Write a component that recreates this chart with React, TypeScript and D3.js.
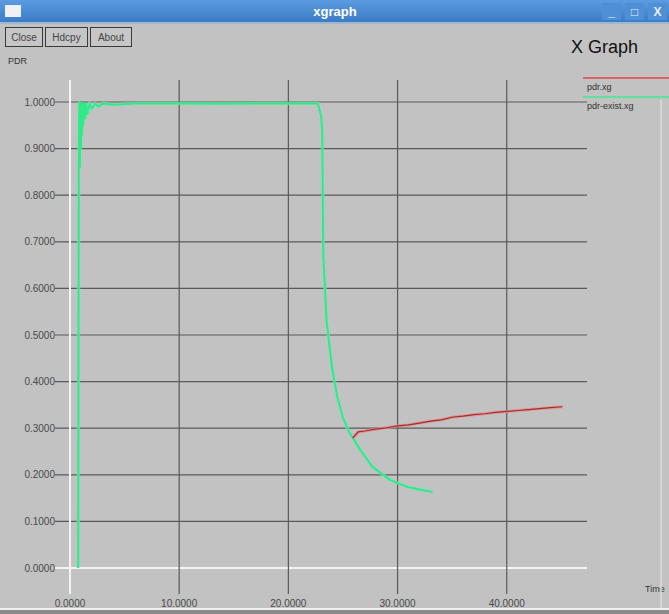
import { useEffect, useRef } from 'react';
import * as d3 from 'd3';

// tick values
const xTicks = [0, 10, 20, 30, 40];
const yTicks = [0, 0.1, 0.2, 0.3, 0.4, 0.5, 0.6, 0.7, 0.8, 0.9, 1.0];

// pdr-exist.xg (green)
const existTime = [0.75, 0.8, 0.85, 0.9, 0.95, 1.0, 1.05, 1.1, 1.15, 1.2, 1.3, 1.4, 1.5, 1.6, 1.8, 2.0, 2.3, 2.6, 3.0, 4.0, 6, 10, 14, 18, 22.7, 23.0, 23.1, 23.2, 23.5, 24.0, 24.5, 25.0, 25.6, 26.6, 27.7, 29.3, 30.9, 33.2];
const existPdr = [0.0, 0.83, 1.0, 0.86, 0.998, 0.9, 0.997, 0.93, 0.997, 0.95, 0.997, 0.965, 0.997, 0.975, 0.997, 0.985, 0.997, 0.99, 0.997, 0.994, 0.997, 0.997, 0.996, 0.997, 0.997, 0.97, 0.94, 0.67, 0.53, 0.43, 0.365, 0.322, 0.29, 0.253, 0.217, 0.189, 0.174, 0.163];

// pdr.xg (red)
const pdrTime = [25.9, 26.4, 27, 28, 29, 30, 31, 32, 33, 34, 35.1, 36, 37, 38, 39, 40, 41, 42, 43, 44, 45.1];
const pdrValue = [0.279, 0.292, 0.294, 0.298, 0.301, 0.305, 0.307, 0.311, 0.315, 0.318, 0.324, 0.326, 0.329, 0.331, 0.334, 0.336, 0.338, 0.340, 0.342, 0.344, 0.346];

const buttons = ['Close', 'Hdcpy', 'About'];

export default function App() {
  const svgRef = useRef<SVGSVGElement>(null);

  useEffect(() => {
    document.body.style.margin = '0';
    const width = 669;
    const height = 614;
    const font = 'Liberation Sans, Arial, sans-serif';

    const svg = d3.select(svgRef.current);
    svg.selectAll('*').remove();
    svg.attr('width', width).attr('height', height);

    // window background
    svg.append('rect').attr('width', width).attr('height', height).attr('fill', '#c2c2c2');

    // title bar
    const grad = svg.append('defs').append('linearGradient')
      .attr('id', 'titlebar').attr('x1', 0).attr('y1', 0).attr('x2', 0).attr('y2', 1);
    grad.append('stop').attr('offset', '0%').attr('stop-color', '#5b9be0');
    grad.append('stop').attr('offset', '100%').attr('stop-color', '#3d7cc6');
    svg.append('rect').attr('width', width).attr('height', 22).attr('fill', 'url(#titlebar)');
    svg.append('rect').attr('y', 22).attr('width', width).attr('height', 2).attr('fill', '#9fb8d2');
    svg.append('rect').attr('x', 5).attr('y', 5).attr('width', 16).attr('height', 12).attr('fill', '#eef2f8');
    svg.append('text').attr('x', 335).attr('y', 16).attr('text-anchor', 'middle')
      .attr('fill', '#fff').attr('font-family', font).attr('font-weight', 'bold').attr('font-size', 13)
      .text('xgraph');
    // window controls
    [[602, '_'], [625, '□'], [648, 'X']].forEach(([bx, s]) => {
      svg.append('rect').attr('x', bx as number).attr('y', 3).attr('width', 19).attr('height', 17)
        .attr('fill', '#4f8fd6');
      svg.append('text').attr('x', (bx as number) + 9.5).attr('y', 16).attr('text-anchor', 'middle')
        .attr('fill', '#e8f0fa').attr('font-family', font).attr('font-weight', 'bold').attr('font-size', 12)
        .text(s as string);
    });

    // buttons
    let bx = 5;
    buttons.forEach((b) => {
      const w = b === 'Close' ? 37 : b === 'Hdcpy' ? 42 : 41;
      svg.append('rect').attr('x', bx + 0.5).attr('y', 27.5).attr('width', w).attr('height', 19)
        .attr('fill', '#c6c6c6').attr('stroke', '#3a3a3a').attr('stroke-width', 1);
      svg.append('text').attr('x', bx + w / 2 + 0.5).attr('y', 41).attr('text-anchor', 'middle')
        .attr('fill', '#444').attr('font-family', font).attr('font-size', 10).text(b);
      bx += w + 3;
    });

    svg.append('text').attr('x', 638).attr('y', 53).attr('text-anchor', 'end')
      .attr('fill', '#111').attr('font-family', font).attr('font-size', 18).text('X Graph');
    svg.append('text').attr('x', 8).attr('y', 64)
      .attr('fill', '#333').attr('font-family', font).attr('font-size', 9).text('PDR');

    // scales
    const x = d3.scaleLinear().domain([0, 47.35]).range([70, 587]);
    const y = d3.scaleLinear().domain([0, 1]).range([568, 102]);

    const grid = svg.append('g');
    // horizontal grid
    yTicks.forEach((t) => {
      grid.append('line').attr('x1', 55).attr('x2', 587).attr('y1', y(t)).attr('y2', y(t))
        .attr('stroke', t === 0 ? '#f4f4f4' : '#5a5a5a').attr('stroke-width', t === 0 ? 2 : 1.2);
      grid.append('text').attr('x', 55).attr('y', y(t) + 3.5).attr('text-anchor', 'end')
        .attr('fill', '#4a4a4a').attr('font-family', font).attr('font-size', 10)
        .text(d3.format('.4f')(t));
    });
    // vertical grid
    xTicks.forEach((t) => {
      grid.append('line').attr('x1', x(t)).attr('x2', x(t)).attr('y1', 80).attr('y2', 594)
        .attr('stroke', t === 0 ? '#f4f4f4' : '#5a5a5a').attr('stroke-width', t === 0 ? 2 : 1.2);
      grid.append('text').attr('x', x(t)).attr('y', 607).attr('text-anchor', 'middle')
        .attr('fill', '#4a4a4a').attr('font-family', font).attr('font-size', 10)
        .text(d3.format('.4f')(t));
    });
    svg.append('text').attr('x', 645).attr('y', 592)
      .attr('fill', '#333').attr('font-family', font).attr('font-size', 9).text('Time');

    const existLine = d3.line<number>()
      .x((d) => x(d))
      .y((_, i) => y(existPdr[i]));
    const pdrLine = d3.line<number>()
      .x((d) => x(d))
      .y((_, i) => y(pdrValue[i]));

    // green series
    svg.append('path').attr('d', existLine(existTime))
      .attr('fill', 'none').attr('stroke', '#8fe0c0').attr('stroke-width', 3.5).attr('opacity', 0.6);
    svg.append('path').attr('d', existLine(existTime))
      .attr('fill', 'none').attr('stroke', '#2eea88').attr('stroke-width', 2)
      .attr('stroke-linejoin', 'round');

    // red series
    svg.append('path').attr('d', pdrLine(pdrTime))
      .attr('fill', 'none').attr('stroke', '#e48a8a').attr('stroke-width', 3).attr('opacity', 0.8);
    svg.append('path').attr('d', pdrLine(pdrTime))
      .attr('fill', 'none').attr('stroke', '#a82c2c').attr('stroke-width', 1.2);

    // legend
    const legend = svg.append('g');
    legend.append('line').attr('x1', 583).attr('x2', 669).attr('y1', 78).attr('y2', 78)
      .attr('stroke', '#e04848').attr('stroke-width', 1.5);
    legend.append('text').attr('x', 587).attr('y', 90).attr('fill', '#333')
      .attr('font-family', font).attr('font-size', 9).text('pdr.xg');
    legend.append('line').attr('x1', 583).attr('x2', 669).attr('y1', 97).attr('y2', 97)
      .attr('stroke', '#40e890').attr('stroke-width', 1.5);
    legend.append('text').attr('x', 587).attr('y', 109).attr('fill', '#333')
      .attr('font-family', font).attr('font-size', 9).text('pdr-exist.xg');

    // window frame
    svg.append('line').attr('x1', 661).attr('x2', 661).attr('y1', 100).attr('y2', 608)
      .attr('stroke', '#dcdcdc').attr('stroke-width', 1.5);
    svg.append('line').attr('x1', 0).attr('x2', width).attr('y1', 609).attr('y2', 609)
      .attr('stroke', '#f0f0f0').attr('stroke-width', 2);
    svg.append('rect').attr('y', 610).attr('width', width).attr('height', 4).attr('fill', '#8a8a8a');
  }, []);

  return <svg ref={svgRef} style={{ display: 'block' }}></svg>;
}
